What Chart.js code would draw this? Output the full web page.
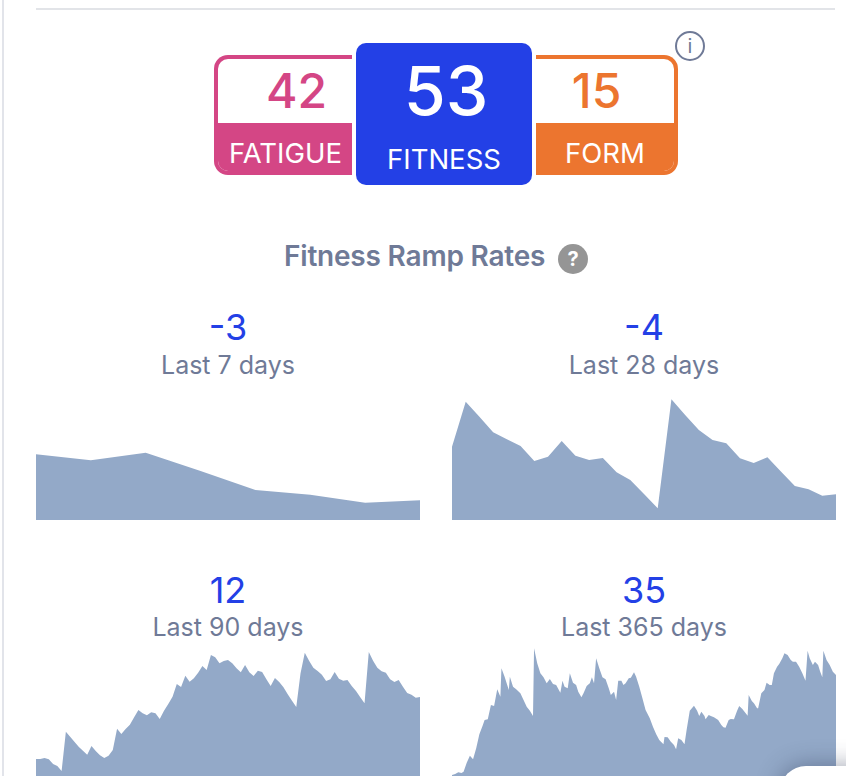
<!DOCTYPE html>
<html>
<head>
<meta charset="utf-8">
<title>Fitness Ramp Rates</title>
<script src="https://cdn.jsdelivr.net/npm/chart.js@4/dist/chart.umd.min.js"></script>
<style>
  html, body { margin: 0; padding: 0; background: #fff; }
  body { width: 846px; height: 776px; position: relative; overflow: hidden; font-family: Inter, "Noto Sans", sans-serif; }
  .abs { position: absolute; }
  .center { text-align: center; white-space: nowrap; }
  .side { top: 55px; width: 138px; height: 120px; box-sizing: border-box; border: 4px solid; background: #fff; overflow: hidden; }
  .band { position: absolute; left: 0; right: 0; top: 64px; height: 52px; }
  .big { font-size: 48px; line-height: 56px; font-weight: 500; }
  .name { font-size: 27.5px; line-height: 32px; color: #fff; }
  .num { font-size: 36px; line-height: 38px; color: #2340e6; }
  .sub { font-size: 25px; line-height: 30px; color: #6f7a97; }
  canvas { display: block; }
</style>
</head>
<body>
<div class="abs" style="left:2px;top:0;width:2px;height:776px;background:#e2e4ea"></div>
<div class="abs" style="left:36px;top:8px;width:799px;height:2px;background:#e2e4e8"></div>

<div class="abs side" style="left:214px;border-color:#d44685;border-right:0;border-radius:14px 0 0 14px">
  <div class="band" style="background:#d44685"></div>
  <div class="abs center big" style="left:0;width:157px;top:4px;color:#d44685">42</div>
  <div class="abs center name" style="left:0;width:135px;top:78px">FATIGUE</div>
</div>
<div class="abs" style="left:356px;top:43px;width:176px;height:142px;background:#2340e6;border-radius:10px">
  <div class="abs center" style="left:0;width:180px;top:5px;font-size:68px;line-height:84px;font-weight:500;color:#fff">53</div>
  <div class="abs center name" style="left:0;width:176px;top:100px">FITNESS</div>
</div>
<div class="abs side" style="left:536px;width:142px;border-color:#ec752f;border-left:0;border-radius:0 14px 14px 0">
  <div class="band" style="background:#ec752f"></div>
  <div class="abs" style="left:0;width:127px;top:112px;height:1px;background:#f0905a"></div>
  <div class="abs center big" style="left:0;width:121px;top:4px;color:#ec752f">15</div>
  <div class="abs center name" style="left:0;width:138px;top:78px">FORM</div>
</div>
<div class="abs center" style="left:675px;top:31px;width:26px;height:26px;border:2px solid #6f7a97;border-radius:50%;font-size:20px;line-height:26px;color:#6f7a97">i</div>

<div class="abs center" style="left:284px;top:240px;font-size:28px;line-height:32px;font-weight:600;color:#6f7a97;letter-spacing:-0.2px">Fitness Ramp Rates</div>
<div class="abs center" style="left:558px;top:244px;width:30px;height:30px;border-radius:50%;background:#959595;color:#fff;font-size:20px;line-height:30px;font-weight:700">?</div>

<div class="abs center num" style="left:36px;width:384px;top:308px">-3</div>
<div class="abs center sub" style="left:36px;width:384px;top:350px">Last 7 days</div>
<div class="abs center num" style="left:452px;width:384px;top:308px">-4</div>
<div class="abs center sub" style="left:452px;width:384px;top:350px">Last 28 days</div>
<div class="abs center num" style="left:36px;width:384px;top:571px">12</div>
<div class="abs center sub" style="left:36px;width:384px;top:612px">Last 90 days</div>
<div class="abs center num" style="left:452px;width:384px;top:571px">35</div>
<div class="abs center sub" style="left:452px;width:384px;top:612px">Last 365 days</div>

<div class="abs" style="left:36px;top:380px;width:384px;height:140px"><canvas id="c7"></canvas></div>
<div class="abs" style="left:452px;top:380px;width:384px;height:140px"><canvas id="c28"></canvas></div>
<div class="abs" style="left:36px;top:642px;width:384px;height:140px"><canvas id="c90"></canvas></div>
<div class="abs" style="left:452px;top:642px;width:384px;height:140px"><canvas id="c365"></canvas></div>

<div class="abs" style="left:780px;top:766px;width:120px;height:60px;background:#fff;border-radius:26px;box-shadow:0 0 24px rgba(40,50,80,0.45)"></div>

<script>
const ramp7 = [65.7, 59.7, 67.3, 49, 30, 25.3, 17.3, 19.7];

const ramp28 = [73.3, 118.3, 103.3, 87.7, 80.7, 74, 59, 63.3, 79, 64.3, 60, 62, 47.7, 40, 26, 11.7,
  120.7, 105, 90, 80, 76.7, 61.7, 57, 62.7, 48.3, 34, 30.7, 24.3, 25.7];

const ramp90 = [23, 23, 24, 22.7, 18, 16, 11, 50.3, 45.3, 40.3, 35.3, 31.3, 27.3, 36, 31, 26.7, 24, 26.3, 32, 53.3,
  48, 53, 57.3, 64.7, 72, 68.7, 66.7, 69.7, 68.7, 63, 71.3, 78, 85.3, 98, 95, 106.3, 100.3, 103.7, 109.3, 116,
  112, 127, 124.7, 118.7, 121, 122, 118.7, 113.7, 109.7, 117, 109.7, 106, 111.3, 110, 102.7, 96, 104, 100, 94.7, 87.7,
  81.3, 75, 108.7, 129.3, 121.3, 114.3, 111, 107.3, 101, 102.7, 110, 103.3, 101.3, 102, 96, 91, 84.7, 78.7, 130, 121.3,
  114.3, 110.7, 109.3, 102.7, 100, 102, 95.3, 89, 87.3, 84.3, 85];

const days365 = [0, 3, 6, 9, 11, 14, 17, 20, 23, 26, 29, 31, 34, 37, 40, 43, 46, 47, 50, 54, 55, 58, 61, 65, 68, 71, 74, 77,
  78, 81, 84, 87, 90, 93, 96, 99, 103, 105, 107, 110, 112, 115, 118, 120, 123, 125, 128, 131, 133, 135,
  137, 140, 143, 146, 149, 151, 154, 156, 158, 161, 163, 165, 168, 170, 173, 175, 178, 181, 184, 188, 191, 194, 197,
  201, 202, 205, 208, 211, 213, 215, 218, 221, 223, 226, 228, 230, 233, 235, 237, 240, 241, 244, 246, 249, 253, 256, 258, 260,
  263, 265, 268, 271, 273, 276, 281, 282, 285, 287, 290, 291, 294, 297, 299, 302, 304, 306, 309, 311, 314, 316,
  319, 322, 324, 327, 330, 333, 336, 338, 340, 343, 345, 348, 350, 352, 353, 356, 359, 362, 365];

const ramp365 = [7, 8, 9.7, 9, 10.3, 19.3, 26.3, 22.7, 33.7, 47.7, 56, 62, 62.7, 77, 76, 92.7, 85.3, 113.7, 105.3, 92, 105.3, 95.3, 92.7, 88.7, 82, 75.3, 71.3, 66,
  133.7, 118.7, 108.7, 104.7, 98.7, 103, 98, 97, 89.3, 101.3, 95.3, 93.7, 108.7, 99.3, 97, 90.3, 84.7, 88.7, 96, 98.7, 104.7, 98.7,
  123.7, 113.7, 104.7, 102.7, 93.7, 87, 90.3, 82, 101.3, 101.3, 97, 98.7, 103.7, 104.3, 109.7, 105.3, 95.3, 83.7, 72, 63.7, 55.3, 48, 42,
  37.7, 45, 44.7, 40.3, 37, 32.7, 43.7, 42, 37.7, 52, 71.3, 73.7, 76.3, 71.3, 66, 70.3, 66, 62.7, 67, 66, 64.7, 62, 57, 54.7, 54.3,
  62, 63, 62.7, 71.3, 76, 73, 66.3, 87, 81, 78.7, 73.7, 73.7, 88.7, 92, 99.3, 97, 97, 108.7, 115.3, 118, 123.7, 128.7,
  127, 122, 120.3, 120.3, 115.3, 108.7, 101.3, 131.3, 123.7, 117, 120.3, 117, 110.3, 104.7, 131.3, 122, 117, 110.3, 107];

const areaColor = '#93a9c8';
const yTop = 140;

function sparkline(id, points, lastX) {
  new Chart(document.getElementById(id), {
    type: 'line',
    data: {
      datasets: [{
        data: points,
        fill: 'origin',
        backgroundColor: areaColor,
        borderWidth: 0,
        pointRadius: 0,
        tension: 0
      }]
    },
    options: {
      responsive: true,
      maintainAspectRatio: false,
      animation: false,
      events: [],
      layout: { padding: 0 },
      plugins: { legend: { display: false }, tooltip: { enabled: false } },
      scales: {
        x: { type: 'linear', min: 0, max: lastX, display: false },
        y: { min: 0, max: yTop, display: false }
      }
    }
  });
}

// daily series just use their index as the day number
const byDay = values => values.map((v, i) => ({ x: i, y: v }));

sparkline('c7', byDay(ramp7), 7);
sparkline('c28', byDay(ramp28), 28);
sparkline('c90', byDay(ramp90), 90);
sparkline('c365', days365.map((d, i) => ({ x: d, y: ramp365[i] })), 365);
</script>
</body>
</html>
